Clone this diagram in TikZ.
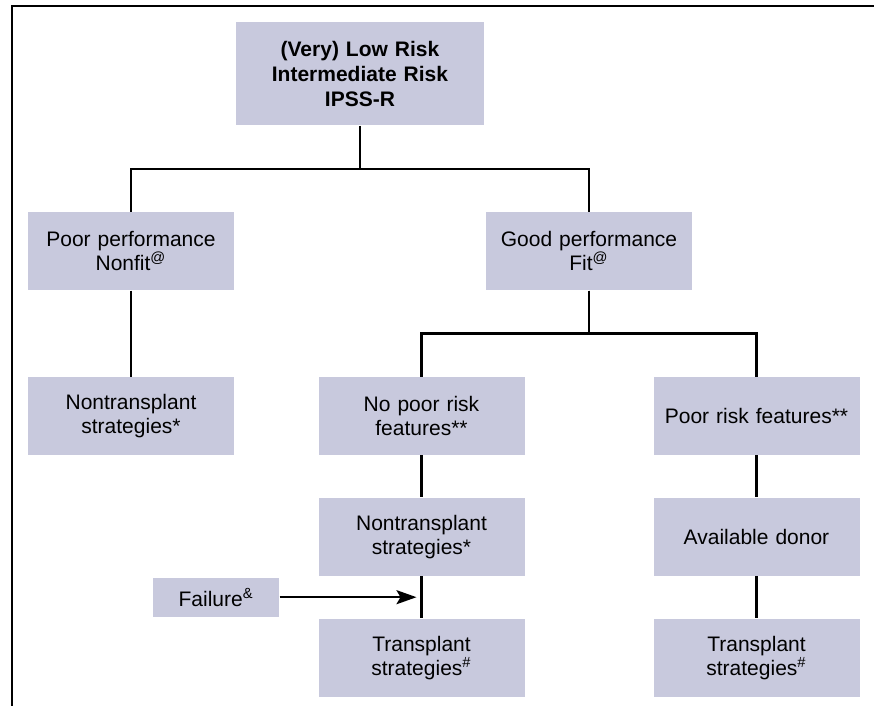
\documentclass[tikz,border=0pt]{standalone}
\usepackage{fontspec}
\setmainfont{Liberation Sans}
\usetikzlibrary{positioning,calc,arrows.meta}
\definecolor{boxfill}{RGB}{200,201,221}

\begin{document}
\begin{tikzpicture}[
    font=\fontsize{10.5}{12}\selectfont,
    stage/.style={rectangle, fill=boxfill, text width=95pt, minimum height=39pt,
        inner xsep=4pt, text centered, anchor=north},
    group/.style={stage, text width=116pt, minimum height=51.5pt,
        font=\fontsize{10.5}{12.5}\selectfont\bfseries},
    failbox/.style={rectangle, fill=boxfill, minimum width=63pt, minimum height=19.5pt},
    edge from parent/.style={draw, line width=1.2pt},
    edge from parent path={(\tikzparentnode.south) --
        ($(\tikzparentnode.south)!0.5!(\tikzparentnode.south |- \tikzchildnode.north)$)
        -| (\tikzchildnode.north)},
    level 1/.style={sibling distance=229pt, level distance=43pt},
    level 2/.style={sibling distance=167.5pt, level distance=43pt},
    level 3/.style={level distance=21pt},
    level 4/.style={level distance=21pt},
    growth parent anchor=south
]
\useasboundingbox (0,0) rectangle (437pt,-353pt);

% frame
\draw[line width=1.4pt] (6pt,-353pt) -- (6pt,-3pt) -- (437pt,-3pt);

\node (Risk) [group] at (180pt,-11pt) {(Very) Low Risk\\Intermediate Risk\\IPSS-R}
  child {
    node (Nonfit) [stage] {Poor performance\\Nonfit\textsuperscript{@}}
    child {
      node (Nontransplant01) [stage] {Nontransplant\\strategies*}
    }
  }
  child {
    node (Fit) [stage] {Good performance\\Fit\textsuperscript{@}}
    child {
      node (NoPoorRisk) [stage] {No poor risk\\features**}
      child {
        node (Nontransplant02) [stage] {Nontransplant\\strategies*}
        child {
          node (Transplant01) [stage] {Transplant\\strategies\textsuperscript{\#}}
        }
      }
    }
    child {
      node (PoorRisk) [stage] {Poor risk features**}
      child {
        node (Donor) [stage] {Available donor}
        child {
          node (Transplant02) [stage] {Transplant\\strategies\textsuperscript{\#}}
        }
      }
    }
  }
;

\coordinate (Gap) at ($(Nontransplant02.south)!0.5!(Transplant01.north)$);
\coordinate (FailIn) at ([xshift=-2.5pt]Gap);
\node (Failure) [failbox, left=71pt of Gap] {Failure\textsuperscript{\&}};
\draw[line width=1.2pt, -{Stealth[length=10pt, width=7pt, inset=2pt]}] (Failure) -- (FailIn);

\end{tikzpicture}
\end{document}
